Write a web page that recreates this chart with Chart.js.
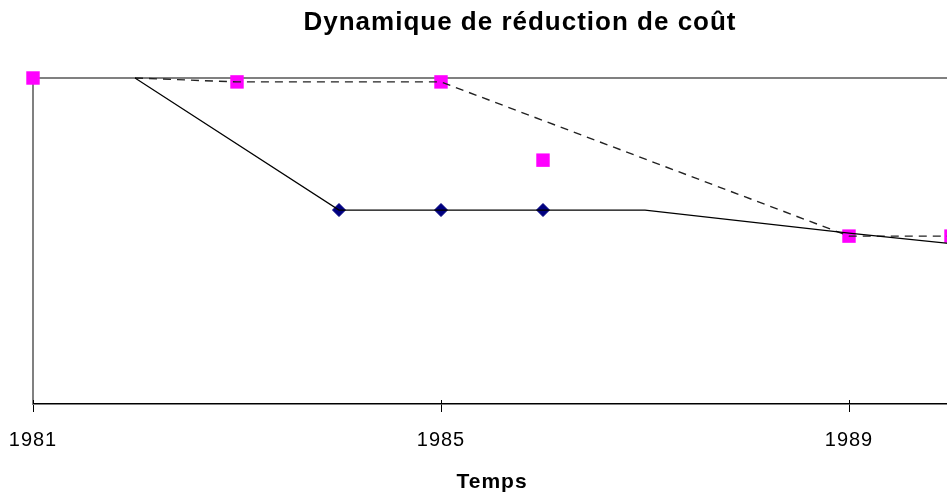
<!DOCTYPE html>
<html>
<head>
<meta charset="utf-8">
<script src="https://cdn.jsdelivr.net/npm/chart.js@4/dist/chart.umd.min.js"></script>
<style>
  html, body { margin: 0; padding: 0; background: #fff; overflow: hidden; }
  #wrap { position: absolute; left: 0; top: 0; width: 1040px; height: 495px; }
</style>
</head>
<body>
<div id="wrap"><canvas id="c" width="1040" height="495"></canvas></div>
<script>
// ---- data ----
const chartTitle = "Dynamique de réduction de coût";
const xTitle = "Temps";
const xTicks = [1981, 1985, 1989];
const xMin = 1981, xMax = 1990;
const yMin = 0, yMax = 100;

// pink square markers
const pinkYears  = [1981, 1983, 1985, 1986, 1989, 1990];
const pinkValues = [100, 98.8, 98.8, 74.8, 51.5, 51.5];

// navy diamond markers
const diamondYears  = [1984, 1985, 1986];
const diamondValues = [59.5, 59.5, 59.5];

// solid line
const solidYears  = [1982, 1984, 1987, 1989, 1990];
const solidValues = [100, 59.5, 59.5, 52.4, 49.2];

// dashed line
const dashedYears  = [1982, 1983, 1985, 1989, 1990];
const dashedValues = [100, 98.8, 98.8, 51.5, 51.5];

const pts = (xs, ys) => xs.map((x, i) => ({ x: x, y: ys[i] }));

const textSpacing = {
  id: 'textSpacing',
  beforeDraw(chart) { chart.ctx.letterSpacing = '1px'; },
  afterDraw(chart) { chart.ctx.letterSpacing = '0px'; }
};

const innerTicks = {
  id: 'innerTicks',
  afterDraw(chart) {
    const xs = chart.scales.x, ctx = chart.ctx;
    const b = chart.chartArea.bottom;
    ctx.save();
    ctx.strokeStyle = '#000';
    ctx.lineWidth = 1;
    xTicks.forEach(v => {
      const px = Math.round(xs.getPixelForValue(v)) + 0.5;
      ctx.beginPath();
      ctx.moveTo(px, b - 4);
      ctx.lineTo(px, b);
      ctx.stroke();
    });
    ctx.restore();
  }
};

new Chart(document.getElementById('c'), {
  type: 'scatter',
  data: {
    datasets: [
      {
        label: 'solid',
        data: pts(solidYears, solidValues),
        showLine: true,
        borderColor: '#000',
        borderWidth: 1.2,
        pointRadius: 0,
        fill: false,
        clip: false
      },
      {
        label: 'dashed',
        data: pts(dashedYears, dashedValues),
        showLine: true,
        borderColor: '#222',
        borderWidth: 1.4,
        borderDash: [8, 6],
        pointRadius: 0,
        fill: false,
        clip: false
      },
      {
        label: 'diamonds',
        data: pts(diamondYears, diamondValues),
        showLine: false,
        pointStyle: 'rectRot',
        pointRadius: 6.5,
        pointBackgroundColor: '#000080',
        pointBorderColor: '#000080',
        pointBorderWidth: 1,
        clip: false
      },
      {
        label: 'squares',
        data: pts(pinkYears, pinkValues),
        showLine: false,
        pointStyle: 'rect',
        pointRadius: 9.5,
        pointBackgroundColor: '#FF00FF',
        pointBorderWidth: 0,
        pointBorderColor: '#FF00FF',
        clip: false
      }
    ]
  },
  options: {
    responsive: false,
    animation: false,
    devicePixelRatio: 1,
    layout: { padding: 0 },
    plugins: {
      legend: { display: false },
      tooltip: { enabled: false },
      title: {
        display: true,
        text: chartTitle,
        fullSize: true,
        color: '#000',
        font: { family: 'Liberation Sans', size: 26, weight: 'bold' },
        padding: { top: 7.4, bottom: 39.4 }
      }
    },
    scales: {
      x: {
        type: 'linear',
        min: xMin,
        max: xMax,
        afterBuildTicks: s => { s.ticks = xTicks.map(v => ({ value: v })); },
        afterFit: s => { s.paddingLeft = 0; s.paddingRight = 0; },
        grid: { display: true, drawOnChartArea: false, drawTicks: true, tickLength: 8, color: '#000', lineWidth: 1 },
        border: { display: true, color: '#000', width: 1.5 },
        ticks: {
          color: '#000',
          font: { family: 'Liberation Sans', size: 20 },
          padding: 16,
          maxRotation: 0,
          callback: v => String(v)
        },
        title: {
          display: true,
          text: xTitle,
          color: '#000',
          font: { family: 'Liberation Sans', size: 21, weight: 'bold' },
          padding: { top: 1.8, bottom: 0 }
        }
      },
      y: {
        type: 'linear',
        position: 'left',
        min: yMin,
        max: yMax,
        afterBuildTicks: s => { s.ticks = [{ value: yMin }, { value: yMax }]; },
        afterFit: s => { s.width = 33; },
        ticks: { display: false },
        grid: {
          display: true,
          drawTicks: false,
          color: ctx => (ctx.tick && ctx.tick.value === yMax) ? '#808080' : 'rgba(0,0,0,0)',
          lineWidth: 2
        },
        border: { display: true, color: '#808080', width: 2 }
      },
      yRight: {
        type: 'linear',
        position: 'right',
        min: 0,
        max: 1,
        afterFit: s => { s.width = 89; },
        ticks: { display: false },
        grid: { display: false, drawTicks: false },
        border: { display: false }
      }
    }
  },
  plugins: [textSpacing, innerTicks]
});
</script>
</body>
</html>
